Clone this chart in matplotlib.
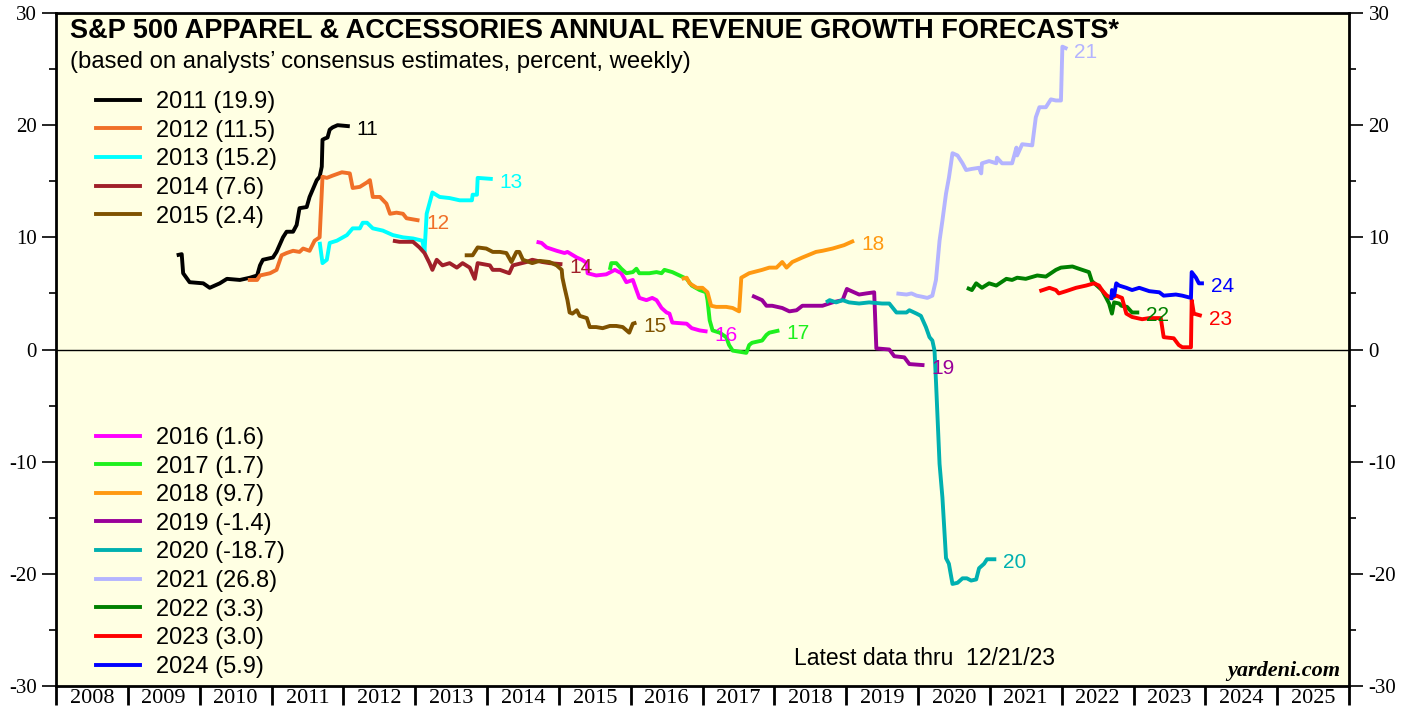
import numpy as np
import matplotlib.pyplot as plt
from matplotlib.lines import Line2D
from matplotlib.ticker import MultipleLocator

plt.rcParams['axes.unicode_minus'] = False

# forecast series: x = date (fractional year), y = revenue growth forecast (%)
x_2011 = [2009.68, 2009.75, 2009.77, 2009.86, 2010.05, 2010.14, 2010.28, 2010.38, 2010.56, 2010.70, 2010.80,
          2010.84, 2010.88, 2011.02, 2011.07, 2011.16, 2011.21, 2011.30, 2011.35, 2011.39, 2011.49, 2011.53,
          2011.57, 2011.63, 2011.67, 2011.70, 2011.71, 2011.74, 2011.78, 2011.81, 2011.85, 2011.92, 2012.09]
y_2011 = [8.4, 8.5, 6.8, 6.0, 5.9, 5.5, 5.9, 6.3, 6.2, 6.4, 6.6,
          7.5, 8.0, 8.2, 8.7, 10.0, 10.5, 10.5, 11.1, 12.6, 12.7, 13.6,
          14.2, 15.1, 15.4, 16.3, 18.7, 18.8, 18.9, 19.6, 19.8, 20.0, 19.9]

x_2012 = [2010.67, 2010.80, 2010.84, 2010.98, 2011.07, 2011.14, 2011.21, 2011.30, 2011.39, 2011.44, 2011.53,
          2011.60, 2011.67, 2011.71, 2011.77, 2011.85, 2011.98, 2012.09, 2012.13, 2012.23, 2012.33, 2012.37,
          2012.41, 2012.51, 2012.60, 2012.65, 2012.74, 2012.83, 2012.88, 2013.06]
y_2012 = [6.2, 6.2, 6.6, 6.8, 7.1, 8.4, 8.6, 8.8, 8.7, 9.0, 8.8,
          9.7, 10.0, 15.4, 15.3, 15.5, 15.8, 15.7, 14.4, 14.5, 14.9, 15.1,
          13.6, 13.6, 13.0, 12.1, 12.2, 12.1, 11.7, 11.5]

x_2013 = [2011.67, 2011.71, 2011.77, 2011.81, 2011.91, 2012.05, 2012.13, 2012.23, 2012.27, 2012.33, 2012.41,
          2012.55, 2012.69, 2012.83, 2012.97, 2013.10, 2013.13, 2013.16, 2013.24, 2013.34, 2013.48, 2013.62,
          2013.79, 2013.80, 2013.86, 2013.87, 2014.08]
y_2013 = [9.6, 7.7, 8.0, 9.5, 9.7, 10.2, 10.8, 10.8, 11.3, 11.3, 10.8,
          10.6, 10.2, 10.0, 9.9, 9.7, 8.7, 12.1, 14.0, 13.6, 13.5, 13.3,
          13.3, 13.8, 13.8, 15.3, 15.2]

x_2014 = [2012.69, 2012.78, 2012.97, 2013.06, 2013.13, 2013.20, 2013.24, 2013.30, 2013.38, 2013.48, 2013.58,
          2013.66, 2013.76, 2013.83, 2013.87, 2014.04, 2014.08, 2014.18, 2014.31, 2014.36, 2014.55, 2014.63,
          2014.77, 2014.87, 2015.05]
y_2014 = [9.7, 9.6, 9.6, 9.1, 8.6, 7.7, 7.1, 8.0, 7.5, 7.7, 7.3,
          7.7, 7.3, 6.3, 7.7, 7.5, 7.1, 7.1, 6.8, 7.5, 7.8, 8.0,
          7.8, 7.7, 7.6]

x_2015 = [2013.69, 2013.80, 2013.87, 2013.99, 2014.08, 2014.18, 2014.27, 2014.34, 2014.41, 2014.45, 2014.50,
          2014.63, 2014.73, 2014.87, 2014.97, 2015.04, 2015.05, 2015.08, 2015.12, 2015.15, 2015.19, 2015.25,
          2015.29, 2015.39, 2015.43, 2015.52, 2015.61, 2015.71, 2015.80, 2015.89, 2015.98, 2016.03, 2016.08]
y_2015 = [8.4, 8.4, 9.1, 9.0, 8.7, 8.7, 8.6, 7.8, 8.7, 8.7, 8.0,
          7.7, 7.9, 7.8, 7.5, 7.1, 6.4, 5.5, 4.4, 3.3, 3.2, 3.5,
          3.0, 2.8, 2.0, 2.0, 1.9, 2.1, 2.1, 2.0, 1.5, 2.3, 2.4]

x_2016 = [2014.69, 2014.76, 2014.83, 2014.97, 2015.08, 2015.12, 2015.25, 2015.32, 2015.39, 2015.40, 2015.52,
          2015.66, 2015.78, 2015.87, 2015.94, 2016.03, 2016.08, 2016.12, 2016.22, 2016.30, 2016.36, 2016.43,
          2016.50, 2016.54, 2016.58, 2016.78, 2016.85, 2016.96, 2017.07]
y_2016 = [9.6, 9.5, 9.1, 8.8, 8.6, 8.7, 8.2, 8.0, 7.7, 6.8, 6.6,
          6.7, 7.1, 6.8, 6.0, 6.2, 5.3, 4.6, 4.4, 4.6, 4.4, 3.7,
          3.3, 3.2, 2.4, 2.3, 1.9, 1.7, 1.6]

x_2017 = [2015.71, 2015.73, 2015.80, 2015.87, 2015.94, 2016.03, 2016.08, 2016.12, 2016.26, 2016.36, 2016.43,
          2016.47, 2016.58, 2016.68, 2016.78, 2016.85, 2016.96, 2017.05, 2017.07, 2017.10, 2017.14, 2017.24,
          2017.33, 2017.37, 2017.42, 2017.61, 2017.65, 2017.69, 2017.83, 2017.89, 2017.93, 2018.07]
y_2017 = [7.1, 7.7, 7.7, 7.2, 6.8, 6.9, 7.2, 6.8, 6.8, 6.9, 6.8,
          7.1, 6.9, 6.6, 6.3, 5.7, 5.3, 5.1, 4.4, 2.6, 1.7, 1.5,
          1.1, 0.4, -0.1, -0.3, 0.4, 0.6, 0.8, 1.3, 1.5, 1.7]

x_2018 = [2016.71, 2016.78, 2016.82, 2016.92, 2017.00, 2017.07, 2017.12, 2017.19, 2017.33, 2017.42, 2017.51,
          2017.54, 2017.65, 2017.83, 2017.93, 2018.03, 2018.11, 2018.17, 2018.25, 2018.39, 2018.58, 2018.67,
          2018.81, 2018.97, 2019.11]
y_2018 = [6.3, 6.4, 5.9, 5.5, 5.5, 5.1, 3.9, 3.8, 3.8, 3.7, 3.4,
          6.4, 6.8, 7.1, 7.3, 7.3, 7.8, 7.3, 7.8, 8.2, 8.7, 8.8,
          9.0, 9.3, 9.7]

x_2019 = [2017.69, 2017.76, 2017.83, 2017.89, 2017.97, 2018.11, 2018.21, 2018.31, 2018.39, 2018.53, 2018.67,
          2018.81, 2018.95, 2019.01, 2019.04, 2019.18, 2019.28, 2019.39, 2019.42, 2019.60, 2019.67, 2019.81,
          2019.88, 2020.09]
y_2019 = [4.8, 4.6, 4.4, 3.9, 3.9, 3.7, 3.4, 3.5, 3.9, 3.9, 3.9,
          4.2, 4.4, 5.4, 5.3, 4.9, 5.0, 5.1, 0.1, 0.0, -0.6, -0.7,
          -1.3, -1.4]

x_2020 = [2018.72, 2018.77, 2018.86, 2018.95, 2019.04, 2019.18, 2019.32, 2019.50, 2019.60, 2019.70, 2019.84,
          2019.88, 2019.98, 2020.04, 2020.11, 2020.16, 2020.20, 2020.23, 2020.25, 2020.30, 2020.34, 2020.39,
          2020.43, 2020.48, 2020.55, 2020.62, 2020.68, 2020.74, 2020.81, 2020.85, 2020.92, 2020.96, 2021.09]
y_2020 = [4.2, 4.4, 4.2, 4.4, 4.2, 4.1, 4.2, 4.1, 4.1, 3.3, 3.3,
          3.5, 3.2, 3.0, 2.0, 1.1, 0.8, -0.1, -2.8, -10.2, -13.2, -18.6,
          -19.1, -20.9, -20.8, -20.4, -20.4, -20.6, -20.5, -19.5, -19.1, -18.7, -18.7]

x_2021 = [2019.70, 2019.84, 2019.91, 2019.98, 2020.06, 2020.13, 2020.20, 2020.25, 2020.30, 2020.34, 2020.39,
          2020.43, 2020.46, 2020.48, 2020.55, 2020.62, 2020.67, 2020.75, 2020.85, 2020.88, 2020.89, 2020.99,
          2021.09, 2021.10, 2021.17, 2021.31, 2021.37, 2021.38, 2021.45, 2021.59, 2021.64, 2021.69, 2021.78,
          2021.85, 2021.92, 2021.99, 2022.01, 2022.08]
y_2021 = [5.0, 4.9, 5.0, 4.8, 4.7, 4.6, 4.8, 6.2, 9.7, 11.5, 13.9,
          15.3, 16.6, 17.5, 17.3, 16.6, 16.0, 16.1, 16.2, 15.7, 16.6, 16.8,
          16.6, 17.1, 16.6, 16.6, 18.0, 17.3, 18.3, 18.2, 20.7, 21.6, 21.6,
          22.3, 22.2, 22.2, 27.0, 26.8]

x_2022 = [2020.68, 2020.75, 2020.81, 2020.89, 2020.99, 2021.09, 2021.23, 2021.31, 2021.38, 2021.50, 2021.66,
          2021.78, 2021.92, 2021.99, 2022.15, 2022.24, 2022.38, 2022.42, 2022.56, 2022.62, 2022.66, 2022.70,
          2022.73, 2022.80, 2022.83, 2022.91, 2022.98, 2023.08]
y_2022 = [5.5, 5.3, 5.9, 5.5, 5.9, 5.7, 6.3, 6.2, 6.4, 6.3, 6.6,
          6.5, 7.1, 7.3, 7.4, 7.2, 6.9, 6.1, 5.3, 4.6, 4.1, 3.2,
          4.2, 4.1, 3.9, 3.8, 3.3, 3.3]

x_2023 = [2021.69, 2021.83, 2021.92, 2021.96, 2022.06, 2022.20, 2022.34, 2022.45, 2022.52, 2022.56, 2022.63,
          2022.70, 2022.76, 2022.84, 2022.90, 2022.98, 2023.12, 2023.22, 2023.38, 2023.42, 2023.56, 2023.63,
          2023.68, 2023.80, 2023.81, 2023.84, 2023.95]
y_2023 = [5.2, 5.5, 5.3, 5.0, 5.2, 5.5, 5.7, 5.9, 5.7, 5.3, 4.8,
          4.6, 4.8, 4.6, 3.2, 2.9, 2.7, 2.8, 2.8, 1.1, 1.0, 0.4,
          0.2, 0.2, 4.4, 3.2, 3.0]

x_2024 = [2022.69, 2022.70, 2022.73, 2022.76, 2022.80, 2022.90, 2022.98, 2023.08, 2023.22, 2023.36, 2023.42,
          2023.59, 2023.68, 2023.80, 2023.81, 2023.87, 2023.91, 2023.98]
y_2024 = [4.4, 5.3, 4.8, 5.9, 5.7, 5.5, 5.3, 5.5, 5.2, 5.1, 4.8,
          4.9, 4.8, 4.6, 6.9, 6.4, 5.9, 5.9]

years = [2011, 2012, 2013, 2014, 2015, 2016, 2017, 2018, 2019, 2020, 2021, 2022, 2023, 2024]
latest = ['19.9', '11.5', '15.2', '7.6', '2.4', '1.6', '1.7', '9.7', '-1.4', '-18.7', '26.8', '3.3', '3.0', '5.9']
colors = ['#000000', '#F07028', '#00FFFF', '#A0202A', '#7F5200', '#FF00FF', '#1EF01E', '#FF9911',
          '#990099', '#00B0B0', '#B4B4FF', '#008000', '#FF0000', '#0000FF']
xs = [x_2011, x_2012, x_2013, x_2014, x_2015, x_2016, x_2017, x_2018, x_2019, x_2020, x_2021, x_2022, x_2023, x_2024]
ys = [y_2011, y_2012, y_2013, y_2014, y_2015, y_2016, y_2017, y_2018, y_2019, y_2020, y_2021, y_2022, y_2023, y_2024]

fig = plt.figure(figsize=(14.19, 7.17), dpi=100)
ax = fig.add_axes([56 / 1419, 1 - 686 / 717, (1349 - 56) / 1419, (686 - 13) / 717])
ax.set_facecolor('#FFFFE3')

ax.axhline(0, color='black', lw=1)

handles = []
for yr, val, c, x, y in zip(years, latest, colors, xs, ys):
    ax.plot(x, y, color=c, lw=2.8, solid_joinstyle='round', solid_capstyle='butt')
    ax.annotate(str(yr)[2:], (x[-1], y[-1]), xytext=(5, -2.5), textcoords='offset points',
                color=c, fontsize=15, va='center', ha='left', family='Liberation Sans')
    handles.append(Line2D([], [], color=c, lw=2.8, label=f'{yr} ({val})'))

leg_kw = dict(frameon=False, prop={'family': 'Liberation Sans', 'size': 17}, handlelength=1.85,
              handletextpad=0.7, labelspacing=0.28, borderpad=0, borderaxespad=0)
leg1 = ax.legend(handles=handles[:5], loc='upper left', bbox_to_anchor=(0.031, 0.884), **leg_kw)
ax.add_artist(leg1)
ax.legend(handles=handles[5:], loc='upper left', bbox_to_anchor=(0.031, 0.385), **leg_kw)

ax.set_xlim(2008, 2026)
ax.set_ylim(-30, 30)
ax.xaxis.set_major_locator(MultipleLocator(1))
ax.set_xticks(np.arange(2008, 2026) + 0.5, [str(v) for v in range(2008, 2026)], minor=True)
ax.tick_params(axis='x', which='major', labelbottom=False, direction='out', length=14, width=2)
ax.tick_params(axis='x', which='minor', length=0, pad=2, labelsize=16)
ax.yaxis.set_major_locator(MultipleLocator(10))
ax.yaxis.set_minor_locator(MultipleLocator(5))
ax.tick_params(axis='y', which='major', left=True, right=True, labelleft=True, labelright=True,
               direction='out', length=10, width=1.2, labelsize=15, pad=4)
ax.tick_params(axis='y', which='minor', left=True, right=True, direction='out', length=5, width=1.2)
for lab in ax.get_xticklabels(minor=True) + ax.get_yticklabels():
    lab.set_family('Liberation Serif')
for s in ax.spines.values():
    s.set_linewidth(2)

ax.text(0.011, 0.992, 'S&P 500 APPAREL & ACCESSORIES ANNUAL REVENUE GROWTH FORECASTS*',
        transform=ax.transAxes, fontsize=19.5, fontweight='bold', family='Liberation Sans', va='top')
ax.text(0.011, 0.943, '(based on analysts\u2019 consensus estimates, percent, weekly)',
        transform=ax.transAxes, fontsize=17.2, family='Liberation Sans', va='top')
ax.text(0.672, 0.0416, 'Latest data thru  12/21/23', transform=ax.transAxes, fontsize=16.5,
        family='Liberation Sans', ha='center', va='center')
ax.text(0.993, 0.008, 'yardeni.com', transform=ax.transAxes, fontsize=16, family='Liberation Serif',
        fontweight='bold', style='italic', ha='right', va='bottom')

fig.savefig('out.png', dpi=100)
